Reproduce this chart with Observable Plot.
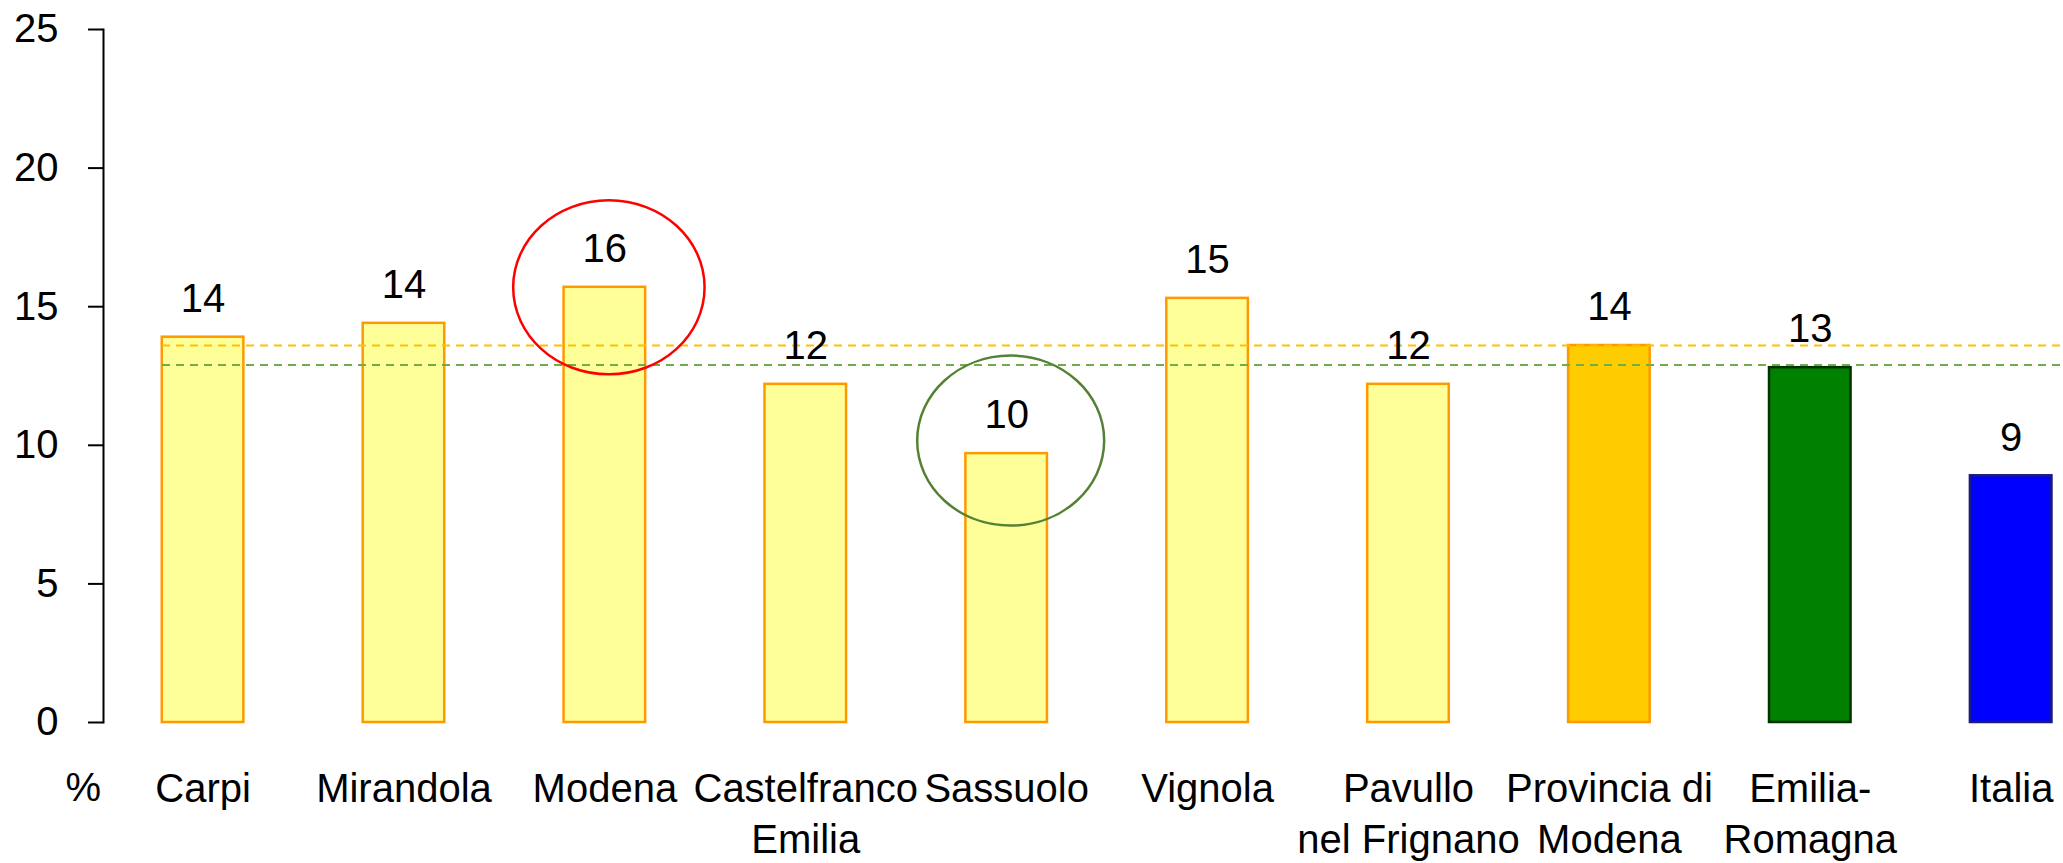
<!DOCTYPE html>
<html><head><meta charset="utf-8">
<script src="https://cdn.jsdelivr.net/npm/d3@7"></script>
<script src="https://cdn.jsdelivr.net/npm/@observablehq/plot@0.6"></script>
<style>html,body{margin:0;padding:0;background:#fff}svg{display:block}</style>
</head><body><div id="chart"></div>
<script>
// ---- data ----
const categories = ["Carpi","Mirandola","Modena","Castelfranco\nEmilia","Sassuolo","Vignola","Pavullo\nnel Frignano","Provincia di\nModena","Emilia-\nRomagna","Italia"];
const values = [13.9, 14.4, 15.7, 12.2, 9.7, 15.3, 12.2, 13.6, 12.8, 8.9];
const fills = ["#FFFF99","#FFFF99","#FFFF99","#FFFF99","#FFFF99","#FFFF99","#FFFF99","#FFCC00","#008000","#0000FF"];
const strokes = ["#FF9900","#FF9900","#FF9900","#FF9900","#FF9900","#FF9900","#FF9900","#FF9900","#003300","#1A1A80"];
const refValues = [13.6, 12.9];          // Provincia di Modena, Emilia-Romagna
const refColors = ["#FFC000", "#70AD47"];
const yTicks = [0, 5, 10, 15, 20, 25];
const circled = [2, 4];                  // indices of highlighted categories
const circleColors = ["#FF0000", "#548235"];

const rows = categories.map((c, i) => ({cat: c, value: values[i], fill: fills[i], stroke: strokes[i]}));
const refs = refValues.map((v, i) => ({value: v, color: refColors[i]}));
const highlights = circled.map((idx, i) => ({cat: categories[idx], value: values[idx], color: circleColors[i]}));

// ellipse symbol (wider than tall)
const ellipse = {
  draw(ctx, size) {
    const r = Math.sqrt(size / Math.PI), rx = r * 1.1, ry = r, k = 0.5523;
    ctx.moveTo(rx, 0);
    ctx.bezierCurveTo(rx, ry * k, rx * k, ry, 0, ry);
    ctx.bezierCurveTo(-rx * k, ry, -rx, ry * k, -rx, 0);
    ctx.bezierCurveTo(-rx, -ry * k, -rx * k, -ry, 0, -ry);
    ctx.bezierCurveTo(rx * k, -ry, rx, -ry * k, rx, 0);
    ctx.closePath();
  }
};
const ellipseOpts = [{r: 87, dy: 0}, {r: 85, dy: -13}];

const FONT = "'Liberation Sans', Arial, sans-serif";

const chart = Plot.plot({
  width: 2063,
  height: 863,
  marginTop: 29,
  marginBottom: 141,
  marginLeft: 103,
  marginRight: 0,
  style: {fontFamily: FONT, fontSize: "40px", color: "#000", background: "#fff"},
  x: {domain: categories, paddingInner: 0.594, paddingOuter: 0.175, align: 0.836, round: false},
  y: {domain: [0, 25]},
  color: {type: "identity"},
  marks: [
    Plot.barY(rows, {x: "cat", y: "value", fill: "fill", stroke: "stroke", strokeWidth: 2.5}),
    Plot.ruleY(refs, {y: "value", stroke: "color", strokeWidth: 2, strokeDasharray: "8,6", insetLeft: 59}),
    Plot.text(rows, {x: "cat", y: "value", text: d => String(Math.round(d.value)), dy: -38, fontSize: 40, fill: "#000"}),
    ...highlights.map((h, i) => Plot.dot([h], {x: "cat", y: "value", r: ellipseOpts[i].r, dy: ellipseOpts[i].dy, dx: 4, symbol: ellipse, stroke: "color", strokeWidth: 2.5, fill: "none"})),
    Plot.axisY({ticks: yTicks, tickSize: 15, tickPadding: 30, fontSize: 40, label: null, strokeWidth: 2}),
    Plot.axisX({tickSize: 0, tickPadding: 43, fontSize: 40, lineHeight: 1.275, label: null}),
    Plot.frame({anchor: "left", stroke: "#000", strokeWidth: 2}),
    Plot.text(["%"], {frameAnchor: "bottom-left", dx: -38, dy: 78, fontSize: 40, fill: "#000"})
  ]
});
document.getElementById("chart").appendChild(chart);
</script>
</body></html>
